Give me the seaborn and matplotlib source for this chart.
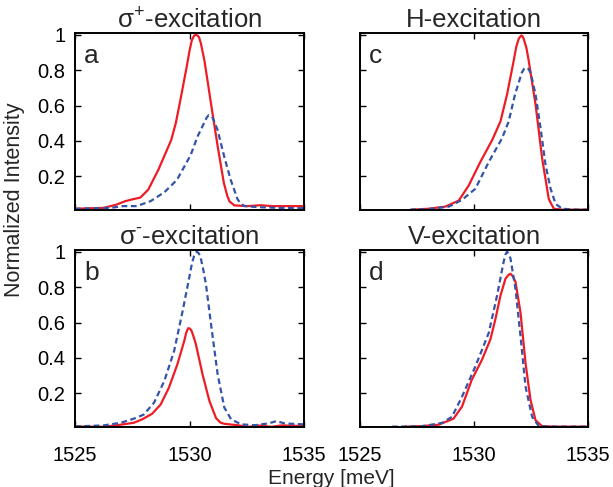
import numpy as np
import pandas as pd
import seaborn as sns
import matplotlib.pyplot as plt

# valores: energia (meV) e intensidade normalizada
# painel a: sigma+ excitacao
a_red_e = [1525.0, 1526.25, 1526.8, 1527.2, 1527.5, 1527.85, 1528.2, 1528.65, 1529.2, 1529.4,
           1529.6, 1529.9, 1530.0, 1530.1, 1530.2, 1530.28, 1530.36, 1530.42, 1530.5, 1530.65,
           1530.8, 1530.94, 1531.23, 1531.5, 1531.65, 1531.75, 1531.96, 1532.55, 1533.1, 1533.6,
           1534.3, 1535.0]
a_red_i = [0.017, 0.022, 0.04, 0.06, 0.07, 0.08, 0.125, 0.24, 0.405, 0.5,
           0.63, 0.835, 0.91, 0.968, 0.995, 1.0, 0.995, 0.985, 0.95, 0.855,
           0.73, 0.61, 0.37, 0.163, 0.09, 0.058, 0.036, 0.032, 0.037, 0.032,
           0.032, 0.032]
a_blue_e = [1525.0, 1526.55, 1527.1, 1527.7, 1528.3, 1528.9, 1529.45, 1530.05, 1530.35, 1530.65,
            1530.75, 1530.84, 1530.92, 1531.0, 1531.1, 1531.23, 1531.52, 1531.8, 1532.1, 1532.25,
            1532.4, 1533.0, 1533.9, 1535.0]
a_blue_i = [0.017, 0.022, 0.032, 0.032, 0.06, 0.11, 0.18, 0.32, 0.425, 0.505,
            0.532, 0.546, 0.543, 0.533, 0.505, 0.46, 0.31, 0.18, 0.07, 0.045,
            0.032, 0.026, 0.022, 0.02]

# painel b: sigma- excitacao
b_red_e = [1525.0, 1526.25, 1526.83, 1527.57, 1527.93, 1528.37, 1528.74, 1529.1, 1529.47, 1529.77,
           1529.85, 1529.94, 1530.02, 1530.09, 1530.18, 1530.28, 1530.57, 1530.87, 1531.16, 1531.35,
           1531.52, 1532.11, 1532.55, 1532.99, 1533.58, 1534.02, 1535.0]
b_red_i = [0.013, 0.011, 0.02, 0.034, 0.053, 0.085, 0.137, 0.232, 0.364, 0.496,
           0.54, 0.568, 0.566, 0.553, 0.52, 0.477, 0.307, 0.157, 0.06, 0.035,
           0.028, 0.02, 0.01, 0.019, 0.011, 0.019, 0.015]
b_blue_e = [1525.0, 1526.25, 1527.0, 1527.57, 1528.0, 1528.45, 1528.9, 1529.33, 1529.7, 1529.99,
            1530.1, 1530.2, 1530.27, 1530.32, 1530.38, 1530.47, 1530.6, 1530.72, 1530.94, 1531.23,
            1531.52, 1531.82, 1532.26, 1532.85, 1533.43, 1533.8, 1534.16, 1535.0]
b_blue_i = [0.013, 0.019, 0.034, 0.057, 0.08, 0.147, 0.27, 0.44, 0.665, 0.855,
            0.93, 0.977, 0.995, 1.0, 0.995, 0.977, 0.9, 0.815, 0.59, 0.307,
            0.12, 0.053, 0.025, 0.02, 0.03, 0.043, 0.03, 0.025]

# painel c: H excitacao
c_red_e = [1527.27, 1528.0, 1528.74, 1529.33, 1529.77, 1530.28, 1530.8, 1531.16, 1531.45, 1531.74,
           1531.85, 1531.96, 1532.07, 1532.12, 1532.18, 1532.3, 1532.4, 1532.7, 1532.99, 1533.28,
           1533.5, 1533.87, 1535.0]
c_red_i = [0.012, 0.017, 0.029, 0.063, 0.149, 0.282, 0.406, 0.51, 0.663, 0.853,
           0.93, 0.977, 0.996, 0.993, 0.977, 0.925, 0.853, 0.606, 0.3, 0.072,
           0.017, 0.012, 0.012]
c_blue_e = [1527.2, 1528.0, 1528.9, 1529.47, 1530.06, 1530.65, 1531.23, 1531.52, 1531.8, 1532.1,
            1532.2, 1532.29, 1532.38, 1532.48, 1532.7, 1532.92, 1533.14, 1533.36, 1533.58, 1533.87,
            1534.46, 1535.0]
c_blue_i = [0.012, 0.015, 0.029, 0.067, 0.13, 0.282, 0.415, 0.51, 0.663, 0.787,
            0.808, 0.815, 0.808, 0.787, 0.663, 0.472, 0.263, 0.13, 0.044, 0.017,
            0.012, 0.012]

# painel d: V excitacao
d_red_e = [1526.98, 1527.7, 1528.45, 1529.1, 1529.47, 1529.9, 1530.35, 1530.72, 1530.94, 1531.16,
           1531.38, 1531.5, 1531.6, 1531.7, 1531.82, 1532.04, 1532.26, 1532.48, 1532.7, 1532.99,
           1533.58, 1535.0]
d_red_i = [0.012, 0.015, 0.023, 0.057, 0.124, 0.276, 0.39, 0.505, 0.62, 0.752,
           0.848, 0.868, 0.876, 0.862, 0.83, 0.657, 0.371, 0.162, 0.048, 0.014,
           0.012, 0.012]
d_blue_e = [1526.4, 1527.7, 1528.6, 1529.03, 1529.47, 1530.06, 1530.65, 1531.01, 1531.3, 1531.38,
            1531.45, 1531.52, 1531.6, 1531.82, 1532.04, 1532.26, 1532.55, 1532.84, 1533.28, 1535.0]
d_blue_i = [0.012, 0.014, 0.033, 0.067, 0.18, 0.352, 0.543, 0.752, 0.943, 0.985,
            1.0, 0.99, 0.962, 0.79, 0.524, 0.238, 0.067, 0.015, 0.012, 0.012]

titulos = ['σ$^{\\mathregular{+}}$-excitation', 'σ$^{\\mathregular{\u2010}}$-excitation',
           'H-excitation', 'V-excitation']
letras = ['a', 'b', 'c', 'd']
x_ticks = [1525, 1530, 1535]
y_ticks = [0.2, 0.4, 0.6, 0.8, 1]
y_tick_labels = ['0.2', '0.4', '0.6', '0.8', '1']

paineis = [
    (a_red_e, a_red_i, a_blue_e, a_blue_i),
    (b_red_e, b_red_i, b_blue_e, b_blue_i),
    (c_red_e, c_red_i, c_blue_e, c_blue_i),
    (d_red_e, d_red_i, d_blue_e, d_blue_i),
]

sns.set_style('ticks')
plt.rcParams['font.family'] = ['Liberation Sans', 'DejaVu Sans']
plt.rcParams['mathtext.fontset'] = 'custom'
plt.rcParams['mathtext.rm'] = 'Liberation Sans'

W, H = 613, 487
fig = plt.figure(figsize=(W / 100, H / 100), dpi=100)

# posicoes dos eixos em pixels (esquerda, topo, direita, base)
caixas = [(75, 33, 304, 210), (75, 250, 304, 427), (360, 33, 588, 210), (360, 250, 588, 427)]

cor_vermelha = '#ee1c25'
cor_azul = '#3553a8'

for k, (caixa, dados) in enumerate(zip(caixas, paineis)):
    x0, y0, x1, y1 = caixa
    ax = fig.add_axes([x0 / W, 1 - y1 / H, (x1 - x0) / W, (y1 - y0) / H])
    re, ri, be, bi = dados
    df_r = pd.DataFrame({'E': re, 'I': ri})
    df_b = pd.DataFrame({'E': be, 'I': bi})
    sns.lineplot(data=df_r, x='E', y='I', ax=ax, color=cor_vermelha, lw=1.6)
    sns.lineplot(data=df_b, x='E', y='I', ax=ax, color=cor_azul, lw=1.6, dashes=False,
                 linestyle=(0, (2.6, 1.6)))
    ax.set_xlim(1525, 1535)
    ax.set_ylim(0.01, 1.01)
    ax.set_xticks(x_ticks)
    ax.set_yticks(y_ticks)
    ax.tick_params(direction='in', length=4, width=1, top=True, right=True,
                   labelsize=14.5, colors='black')
    ax.tick_params(axis='y', pad=7)
    ax.tick_params(axis='x', pad=14)
    if k in (0, 1):
        ax.set_yticklabels(y_tick_labels)
    else:
        ax.set_yticklabels([])
    if k in (1, 3):
        ax.set_xticklabels([str(t) for t in x_ticks])
    else:
        ax.set_xticklabels([])
    ax.set_xlabel('')
    ax.set_ylabel('')
    for s in ax.spines.values():
        s.set_linewidth(1.4)
        s.set_color('black')
    ax.set_title(titulos[k], fontsize=18.5, pad=4)
    ax.text(0.04, 0.87, letras[k], transform=ax.transAxes, fontsize=19, va='center', ha='left')

fig.text(331 / W, 1 - 484 / H, 'Energy [meV]', fontsize=15, ha='center', va='baseline')
fig.text(15 / W, 1 - 200 / H, 'Normalized Intensity', fontsize=15.5, rotation=90,
         ha='center', va='center')

fig.savefig('out.png', dpi=100)
